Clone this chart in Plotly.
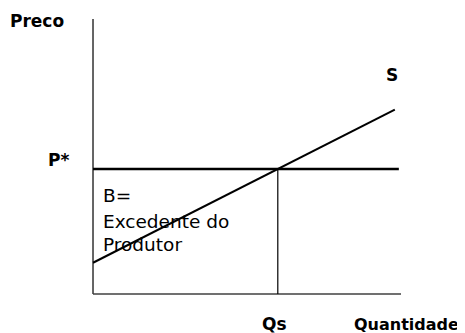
import plotly.graph_objects as go

# dados do grafico (unidades arbitrarias)
q_supply = [0, 9.8]
p_supply = [1.25, 7.375]
p_star = 5
q_s = 6
q_max = 10
p_max = 11

fig = go.Figure()

# eixos
fig.add_trace(go.Scatter(x=[0, 0], y=[0, p_max], mode="lines",
                         line=dict(color="#404040", width=1.6)))
fig.add_trace(go.Scatter(x=[0, q_max], y=[0, 0], mode="lines",
                         line=dict(color="#404040", width=1.6)))
# preco P*
fig.add_trace(go.Scatter(x=[0, 9.93], y=[p_star, p_star], mode="lines",
                         line=dict(color="black", width=2.5)))
# Qs
fig.add_trace(go.Scatter(x=[q_s, q_s], y=[0, p_star], mode="lines",
                         line=dict(color="black", width=1.2)))
# curva de oferta S
fig.add_trace(go.Scatter(x=q_supply, y=p_supply, mode="lines",
                         line=dict(color="black", width=2)))

bold = dict(family="DejaVu Sans", size=17, color="black")
small_bold = dict(family="DejaVu Sans", size=16, color="black")
reg = dict(family="DejaVu Sans", size=18.5, color="black")

notes = [
    ("<b>Preco</b>", -1.83, 10.92, "center", bold),
    ("<b>P*</b>", -1.53, 5.36, "left", bold),
    ("<b>S</b>", 9.71, 8.76, "center", bold),
    ("<b>Qs</b>", 5.9, -1.2, "center", bold),
    ("<b>Quantidade</b>", 11.96, -1.2, "right", small_bold),
    ("B=", 0.25, 3.96, "left", reg),
    ("Excedente do", 0.25, 2.92, "left", reg),
    ("Produtor", 0.25, 2.0, "left", reg),
]
for txt, x, y, anc, f in notes:
    fig.add_annotation(x=x, y=y, text=txt, showarrow=False, xanchor=anc,
                       yanchor="middle", font=f, xref="x", yref="y")

fig.update_layout(
    width=457, height=325,
    margin=dict(l=0, r=0, t=0, b=0),
    paper_bgcolor="white", plot_bgcolor="white",
    showlegend=False,
    xaxis=dict(domain=[0, 1], range=[-2.76, 12.078], visible=False),
    yaxis=dict(domain=[0, 1], range=[-1.56, 11.44], visible=False),
)

fig.write_html("out.html")
